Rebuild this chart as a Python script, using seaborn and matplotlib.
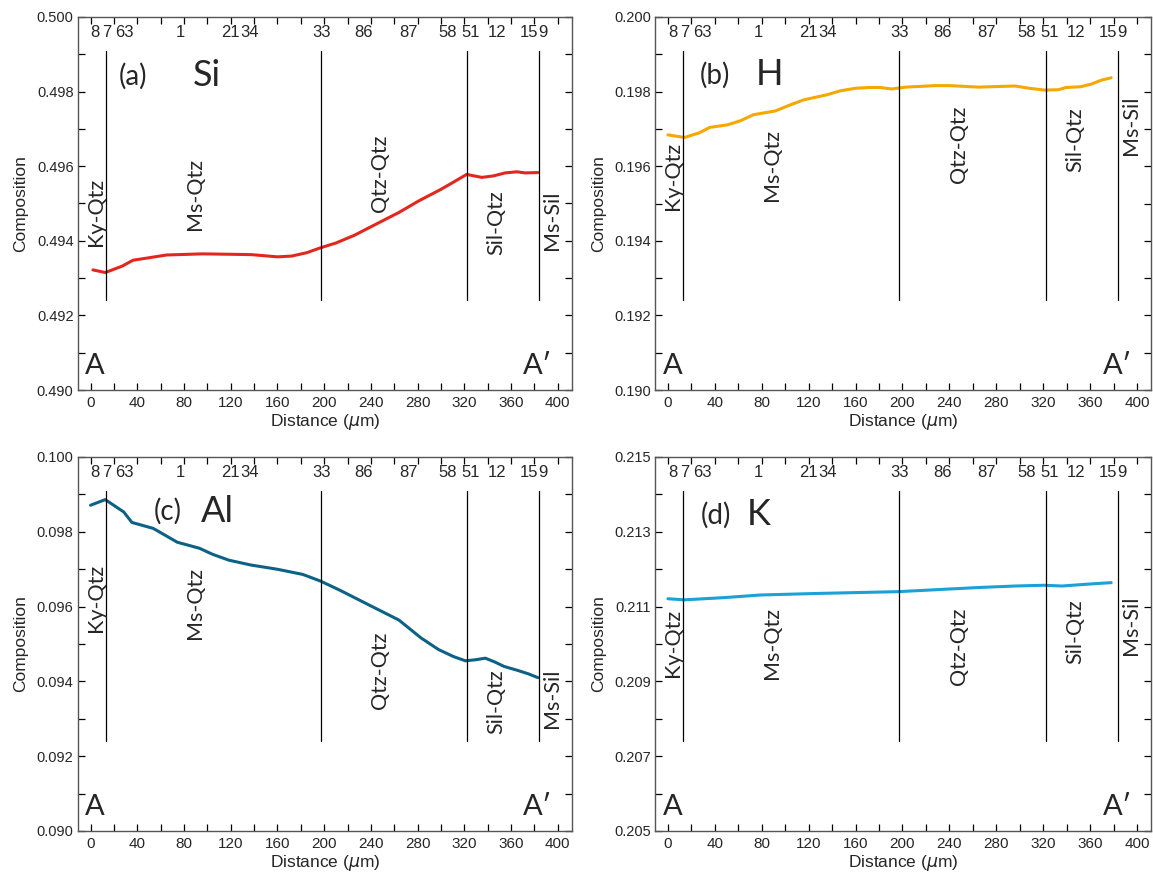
import numpy as np
import pandas as pd
import matplotlib
matplotlib.use("Agg")
import matplotlib.pyplot as plt
import seaborn as sns
from matplotlib.ticker import MultipleLocator

# profile data (distance in um, composition)
si_x = [2, 12.6, 27, 36.4, 49, 65, 96, 137.5, 160, 172, 185, 197.6, 210, 226, 239, 264, 281,
        300, 310, 322, 335, 345, 355, 365, 372, 383]
si_y = [0.49322, 0.49315, 0.49332, 0.49348, 0.49354, 0.49362, 0.49365, 0.49363, 0.49357, 0.49359,
        0.49368, 0.49382, 0.49394, 0.49415, 0.49436, 0.49476, 0.49507, 0.49538, 0.49556, 0.49578,
        0.49570, 0.49574, 0.49582, 0.49585, 0.49582, 0.49583]

h_x = [0, 14, 26.4, 35.7, 51, 62, 72.9, 91.5, 104, 116, 135, 147, 160, 172, 181, 190.7, 203,
       228, 240, 265, 296, 308, 321, 333, 339.5, 352, 361, 370, 378]
h_y = [0.19684, 0.19677, 0.19689, 0.19704, 0.19711, 0.19722, 0.19738, 0.19748, 0.19764, 0.19778,
       0.19791, 0.19802, 0.19809, 0.19811, 0.19811, 0.19807, 0.19812, 0.19816, 0.19816, 0.19812,
       0.19815, 0.19809, 0.19804, 0.19805, 0.19811, 0.19813, 0.19820, 0.19831, 0.19837]

al_x = [0, 12.6, 28.4, 35.4, 53.7, 74.3, 93.2, 104.3, 118.5, 137.5, 159.6, 181.7, 197, 213.3,
        238.6, 264, 283, 298, 311, 321, 330, 338, 346, 354, 365, 375, 383]
al_y = [0.09871, 0.09886, 0.09853, 0.09825, 0.09809, 0.09772, 0.09756, 0.09740, 0.09724, 0.09711,
        0.09700, 0.09686, 0.09668, 0.09644, 0.09604, 0.09564, 0.09516, 0.09485, 0.09466, 0.09455,
        0.09458, 0.09462, 0.09452, 0.09440, 0.09430, 0.09420, 0.09410]

k_x = [0, 14, 48, 79, 126, 197, 234, 265, 296, 321, 336, 358, 378]
k_y = [0.21121, 0.21118, 0.21124, 0.21131, 0.21135, 0.21140, 0.21146, 0.21151, 0.21155, 0.21157,
       0.21155, 0.21160, 0.21164]

# grain boundaries and sample numbers along the traverse
boundaries = [13, 197, 322, 384]
sample_ids = ["8", "7", "63", "1", "21", "34", "33", "86", "87", "58", "51", "12", "15", "9"]
sample_pos = [4, 14, 29, 77, 120, 136, 197.5, 234, 272, 306, 325.5, 348, 375, 387]
regions = ["Ky-Qtz", "Ms-Qtz", "Qtz-Qtz", "Sil-Qtz", "Ms-Sil"]
region_x = [4.5, 89, 248, 347, 395]

panels = [
    dict(tag="(a)", el="Si", x=si_x, y=si_y, color="#e2281e", ylim=(0.490, 0.500), fmt="%.3f",
         pos=[0.0674, 0.5568, 0.4285, 0.4239], tag_x=36, el_x=100, ty=0.842,
         region_y=[0.477, 0.525, 0.58, 0.448, 0.454]),
    dict(tag="(b)", el="H", x=h_x, y=h_y, color="#f5a800", ylim=(0.190, 0.200), fmt="%.3f",
         pos=[0.5681, 0.5568, 0.4302, 0.4239], tag_x=40, el_x=87, ty=0.845,
         region_y=[0.573, 0.604, 0.66, 0.67, 0.71]),
    dict(tag="(c)", el="Al", x=al_x, y=al_y, color="#0b6286", ylim=(0.090, 0.100), fmt="%.3f",
         pos=[0.0674, 0.0557, 0.4285, 0.425], tag_x=66, el_x=109, ty=0.854,
         region_y=[0.624, 0.61, 0.43, 0.347, 0.355]),
    dict(tag="(d)", el="K", x=k_x, y=k_y, color="#1aa1d6", ylim=(0.205, 0.215), fmt="%.3f",
         pos=[0.5681, 0.0557, 0.4302, 0.425], tag_x=41, el_x=77, ty=0.845,
         region_y=[0.503, 0.503, 0.495, 0.532, 0.55]),
]

sns.set_style("ticks")
plt.rcParams["font.family"] = ["Liberation Sans", "DejaVu Sans"]
ann_font = ["Lato", "DejaVu Sans"]

fig = plt.figure(figsize=(11.53, 8.8), dpi=100)

for p in panels:
    ax = fig.add_axes(p["pos"])
    df = pd.DataFrame({"Distance": p["x"], "Composition": p["y"]})
    sns.lineplot(data=df, x="Distance", y="Composition", color=p["color"], lw=2.2, ax=ax)

    ax.set_xlim(-11, 412)
    ax.set_ylim(*p["ylim"])
    ax.xaxis.set_major_locator(MultipleLocator(40))
    ax.xaxis.set_minor_locator(MultipleLocator(20))
    if p["el"] == "K":
        ax.set_yticks(np.arange(0.205, 0.2151, 0.002))
    else:
        ax.yaxis.set_major_locator(MultipleLocator(0.002))
    ax.yaxis.set_minor_locator(MultipleLocator(0.001))
    ax.yaxis.set_major_formatter(matplotlib.ticker.FormatStrFormatter(p["fmt"]))
    ax.tick_params(which="both", direction="in", top=True, right=True, length=5,
                   width=0.9, color="black")
    ax.tick_params(axis="x", labelsize=11, pad=4)
    ax.tick_params(axis="y", labelsize=10.5, pad=3)
    for s in ax.spines.values():
        s.set_color("#555555")
        s.set_linewidth(1.0)

    ax.set_xlabel(r"Distance ($\mu$m)", fontsize=12.5, labelpad=2)
    ax.set_ylabel("Composition", fontsize=12.5, labelpad=6)

    for b in boundaries:
        ax.axvline(b, ymin=0.24, ymax=0.91, color="black", lw=0.9)

    for sid, sx in zip(sample_ids, sample_pos):
        ax.text(sx, 0.958, sid, transform=ax.get_xaxis_transform(), ha="center", va="center",
                fontsize=12)

    for name, rx, ry in zip(regions, region_x, p["region_y"]):
        ax.text(rx, ry, name, transform=ax.get_xaxis_transform(), rotation=90, ha="center",
                va="center", fontsize=15.5, family=ann_font)

    ax.text(p["tag_x"], p["ty"], p["tag"], transform=ax.get_xaxis_transform(), ha="center",
            va="center", fontsize=20, family=ann_font)
    ax.text(p["el_x"], p["ty"], p["el"], transform=ax.get_xaxis_transform(), ha="center",
            va="center", fontsize=26, family=ann_font)

    ax.text(4, 0.064, "A", transform=ax.get_xaxis_transform(), ha="center", va="center",
            fontsize=21, family=ann_font)
    ax.text(383, 0.064, "A\u2032", transform=ax.get_xaxis_transform(), ha="center",
            va="center", fontsize=21, family=ann_font)

fig.savefig("out.png", dpi=100)
